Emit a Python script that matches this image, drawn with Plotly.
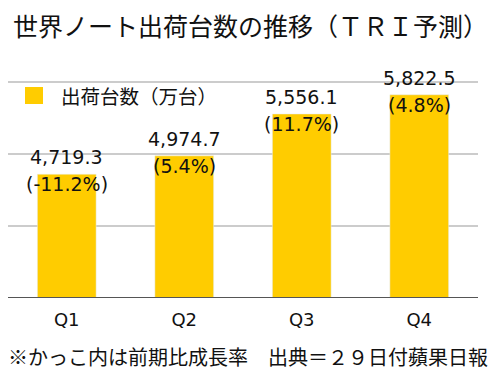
import plotly.graph_objects as go

quarters = ["Q1", "Q2", "Q3", "Q4"]
shipments = [4719.3, 4974.7, 5556.1, 5822.5]
growth = ["(-11.2%)", "(5.4%)", "(11.7%)", "(4.8%)"]
value_labels = ["4,719.3", "4,974.7", "5,556.1", "5,822.5"]
grid_values = [4000, 5000, 6000]

CJK = "Noto Sans CJK JP"
LATIN = "DejaVu Sans, Noto Sans CJK JP"
YELLOW = "#FFCC00"
TXT = "#111111"

W, H = 498, 381
L, R, T, B = 8, 20, 80, 83
pw, ph = W - L - R, H - T - B
ytop = 6000 + 2 / 0.072


def px(xp):
    return (xp - L) / pw


def py(yp):
    return (H - B - yp) / ph


fig = go.Figure()
fig.add_trace(go.Bar(x=quarters, y=shipments, marker_color=YELLOW, width=0.5,
                     showlegend=False, hoverinfo="skip"))

ann = []
for q, v, vl, g in zip(quarters, shipments, value_labels, growth):
    ann.append(dict(x=q, y=v, xref="x", yref="y", text=vl, showarrow=False,
                    yanchor="middle", yshift=17,
                    font=dict(family=LATIN, size=19, color=TXT)))
    ann.append(dict(x=q, y=v, xref="x", yref="y", text=g, showarrow=False,
                    yanchor="middle", yshift=-10,
                    font=dict(family=LATIN, size=19, color=TXT)))

# legend text
ann.append(dict(x=px(59), y=py(95), xref="paper", yref="paper", text="出荷台数（万台）",
                showarrow=False, xanchor="left", yanchor="middle",
                font=dict(family=CJK, size=19.5, color=TXT)))
# footnote
ann.append(dict(x=px(6), y=py(356), xref="paper", yref="paper",
                text="※かっこ内は前期比成長率　出典＝２９日付蘋果日報",
                showarrow=False, xanchor="left", yanchor="middle",
                font=dict(family=CJK, size=20, color=TXT)))

shapes = [dict(type="line", xref="paper", yref="y", x0=0, x1=1, y0=g, y1=g,
               line=dict(color="#cccccc", width=2), layer="below")
          for g in grid_values]
shapes.append(dict(type="line", xref="paper", yref="y", x0=0, x1=1, y0=3000, y1=3000,
                   line=dict(color="#555555", width=2)))
shapes.append(dict(type="rect", xref="paper", yref="paper",
                   x0=px(25), x1=px(43), y0=py(104), y1=py(87),
                   fillcolor=YELLOW, line=dict(width=0)))

fig.update_layout(
    width=W, height=H,
    margin=dict(l=L, r=R, t=T, b=B),
    paper_bgcolor="white", plot_bgcolor="white",
    font=dict(family=CJK, color=TXT),
    title=dict(text="世界ノート出荷台数の推移（ＴＲＩ予測）", x=13 / W, xanchor="left",
               y=1 - 27 / H, yanchor="middle",
               font=dict(family=CJK, size=25, color=TXT)),
    xaxis=dict(showgrid=False, ticks="", tickfont=dict(family=LATIN, size=18, color=TXT),
               showline=False, zeroline=False, ticklabelstandoff=9),
    yaxis=dict(range=[3000, ytop], showticklabels=False, ticks="",
               showgrid=False, zeroline=False, showline=False),
    annotations=ann,
    shapes=shapes,
)

fig.write_html("out.html", config={"displayModeBar": False, "staticPlot": True},
               post_script="document.body.style.margin='0';")
